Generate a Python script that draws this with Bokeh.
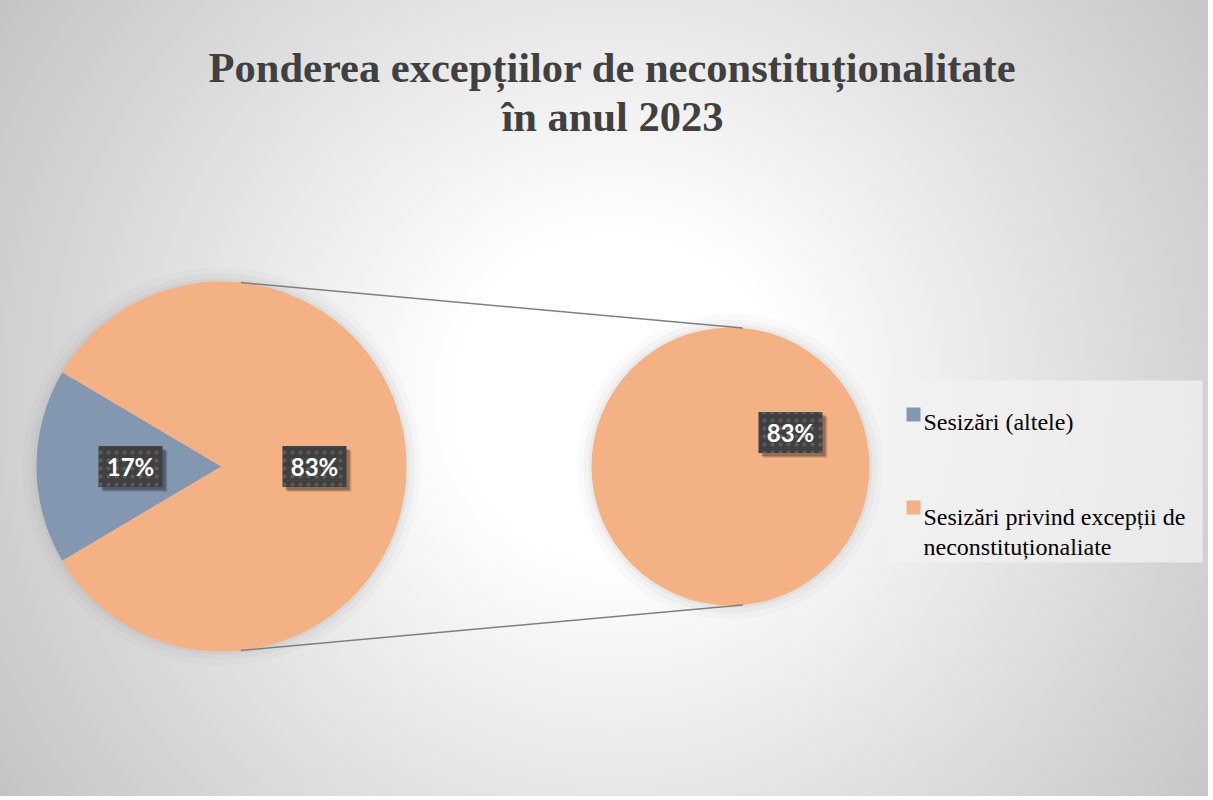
import math
from bokeh.plotting import figure
from bokeh.models import Range1d, ColumnDataSource
from bokeh.core.properties import value
from bokeh.embed import file_html
from bokeh.resources import INLINE

# ---- data ----
categories = ["Sesizări (altele)", "Sesizări privind excepții de neconstituționalitate"]
legend_lines = [["Sesizări (altele)"], ["Sesizări privind excepții de", "neconstituționaliate"]]
shares = [17, 83]                  # primary pie, percent
secondary_shares = [83]            # secondary pie (the orange slice, split out)
colors = ["#8497b0", "#f4b183"]
title_lines = ["Ponderea excepțiilor de neconstituționalitate", "în anul 2023"]

W, H = 1208, 796
OX, OY = 0, 0
def X(xr):
    return xr - OX
def Y(yr):
    return H - (yr - OY)

p = figure(width=W, height=H, output_backend="svg", toolbar_location=None,
           x_range=Range1d(0, W), y_range=Range1d(0, H), min_border=0,
           background_fill_color=None, border_fill_color=None,
           styles={"background": "radial-gradient(circle at 51% 50%, #ffffff 0%, #ffffff 22%, #c4c4c4 100%)"})
p.axis.visible = False
p.grid.visible = False
p.outline_line_color = None

# ---- primary pie ----
c1x, c1y, r1 = X(221), Y(466), 185
total = sum(shares)
blue_span = shares[0] / total * 2 * math.pi
starts = [math.pi - blue_span / 2, math.pi + blue_span / 2]
ends = [math.pi + blue_span / 2, math.pi - blue_span / 2 + 2 * math.pi]

for dr, a in [(14, 0.04), (8, 0.06), (3, 0.08)]:
    p.circle(x=[c1x], y=[c1y], radius=r1 + dr, radius_units="screen",
             fill_color="#808080", fill_alpha=a, line_color=None)

src1 = ColumnDataSource(dict(cat=categories, start=starts, end=ends, color=colors))
p.wedge(x=c1x, y=c1y, radius=r1, radius_units="screen", start_angle="start", end_angle="end",
        fill_color="color", line_color=None, source=src1)

# ---- secondary pie ----
c2x, c2y, r2 = X(730), Y(466), 139
for dr, a in [(14, 0.04), (8, 0.06), (3, 0.08)]:
    p.circle(x=[c2x], y=[c2y], radius=r2 + dr, radius_units="screen",
             fill_color="#808080", fill_alpha=a, line_color=None)
sec_total = sum(secondary_shares)
p.wedge(x=c2x, y=c2y, radius=r2, radius_units="screen", start_angle=0,
        end_angle=secondary_shares[0] / sec_total * 2 * math.pi,
        fill_color=colors[1], line_color=None)

# ---- connector lines ----
a1 = math.radians(84)
a2 = math.radians(85)
for s in (1, -1):
    x0 = c1x + r1 * math.cos(a1)
    y0 = c1y + s * r1 * math.sin(a1)
    x1 = c2x + r2 * math.cos(a2)
    y1 = c2y + s * r2 * math.sin(a2)
    p.line(x=[x0, x1], y=[y0, y1], line_color="#7f7f7f", line_width=1.5)

# ---- data labels ----
lab_x = [X(130), X(314), X(790)]
lab_y = [Y(466), Y(466), Y(432)]
lab_txt = [f"{shares[0]}%", f"{shares[1]}%", f"{secondary_shares[0]}%"]
for off, a in [(5, 0.10), (4, 0.15), (3, 0.2)]:
    p.rect(x=[x + off for x in lab_x], y=[y - off for y in lab_y], width=64, height=41,
           width_units="screen", height_units="screen", fill_color="#000000", fill_alpha=a, line_color=None)
p.rect(x=lab_x, y=lab_y, width=64, height=41, width_units="screen", height_units="screen",
       fill_color="#404040", line_color=None, hatch_pattern=".", hatch_color="#5c5c5c",
       hatch_scale=8, hatch_weight=1)
p.text(x=lab_x, y=lab_y, text=lab_txt, text_align="center", text_baseline="middle",
       text_font=value("Lato"), text_font_style="bold", text_font_size="24px", text_color="#ffffff")

# ---- title ----
p.text(x=[X(612), X(612)], y=[Y(67), Y(116)], text=title_lines, text_align="center",
       text_baseline="alphabetic", text_font=value("Liberation Serif"), text_font_style="bold",
       text_font_size="42.5px", text_color="#404040")

# ---- legend ----
lx0, lx1, ly0, ly1 = X(887), X(1202), Y(380), Y(562)
p.quad(left=[lx0], right=[lx1], top=[ly0], bottom=[ly1], fill_color="#f2f2f2", fill_alpha=0.75, line_color=None)
mark_y = [Y(414), Y(507)]
p.scatter(x=[X(913)] * 2, y=mark_y, marker="square", size=14, fill_color=colors, line_color=None)
tx, ty, tt = [], [], []
base = [421, 516]
for i, lines in enumerate(legend_lines):
    for j, ln in enumerate(lines):
        tx.append(X(923)); ty.append(Y(base[i] + 30 * j)); tt.append(ln)
p.text(x=tx, y=ty, text=tt, text_align="left", text_baseline="alphabetic",
       text_font=value("Liberation Serif"), text_font_size="24px", text_color="#000000")

open("out.html", "w").write(file_html(p, INLINE))
